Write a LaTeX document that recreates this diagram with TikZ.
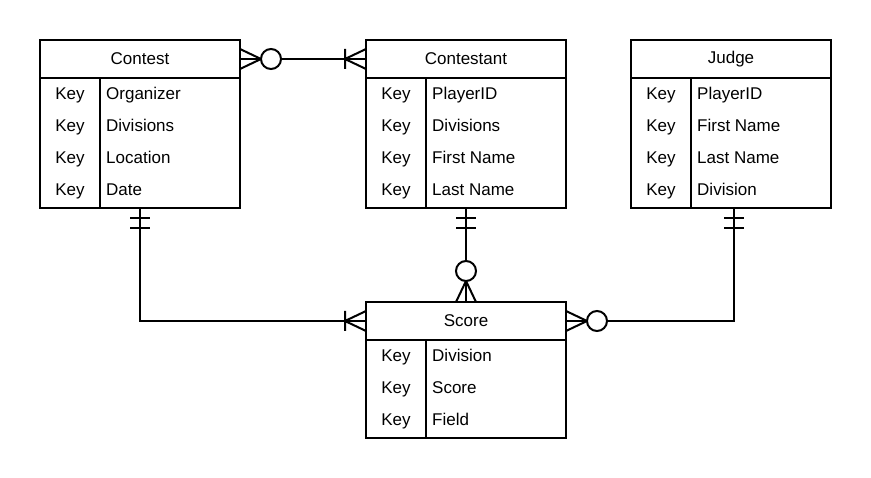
\documentclass[tikz,border=0pt]{standalone}
\usepackage{fontspec}
\setmainfont{Liberation Sans}
\usetikzlibrary{calc}
\tikzset{
  every node/.style={font=\fontsize{17}{20}\selectfont},
  box/.style={draw, line width=2pt, minimum width=200pt, inner sep=0pt, outer sep=0pt},
  head/.style={box, minimum height=38pt},
  body/.style={box, anchor=north, text height=0pt, text depth=0pt},
  keytext/.style={anchor=base, inner sep=0pt},
  attr/.style={anchor=base west, inner sep=0pt},
  link/.style={line width=2pt},
  erOne/.pic={\draw[line width=2pt] (10,-10) -- (10,10) (20,-10) -- (20,10);},
  erOneMany/.pic={\draw[line width=2pt, line join=round] (0,10) -- (21,0) -- (0,-10) (21,-10) -- (21,10);},
  erZeroMany/.pic={\draw[line width=2pt, line join=round] (0,10) -- (21,0) -- (0,-10);
    \draw[line width=2pt, fill=white] (31,0) circle (10);}
}

\begin{document}
\begin{tikzpicture}[x=1pt, y=1pt]
  \useasboundingbox (0,0) rectangle (871,-478);

  %%%%% TABLES %%%%%

  % Contest
  \node[head] (contestHead) at (140,-59) {Contest};
  \node[body, minimum height=130pt] (contestBody) at (contestHead.south) {};
  \draw[line width=2pt] ($(contestBody.north west)+(60,0)$) -- ($(contestBody.south west)+(60,0)$);
  \node[keytext] (contestK1) at (70,-100) {Key};
  \node[attr] (contestA1) at (106,-100) {Organizer};
  \node[keytext] (contestK2) at (70,-132) {Key};
  \node[attr] (contestA2) at (106,-132) {Divisions};
  \node[keytext] (contestK3) at (70,-164) {Key};
  \node[attr] (contestA3) at (106,-164) {Location};
  \node[keytext] (contestK4) at (70,-196) {Key};
  \node[attr] (contestA4) at (106,-196) {Date};

  % Contestant
  \node[head] (contestantHead) at (466,-59) {Contestant};
  \node[body, minimum height=130pt] (contestantBody) at (contestantHead.south) {};
  \draw[line width=2pt] ($(contestantBody.north west)+(60,0)$) -- ($(contestantBody.south west)+(60,0)$);
  \node[keytext] (contestantK1) at (396,-100) {Key};
  \node[attr] (contestantA1) at (432,-100) {PlayerID};
  \node[keytext] (contestantK2) at (396,-132) {Key};
  \node[attr] (contestantA2) at (432,-132) {Divisions};
  \node[keytext] (contestantK3) at (396,-164) {Key};
  \node[attr] (contestantA3) at (432,-164) {First Name};
  \node[keytext] (contestantK4) at (396,-196) {Key};
  \node[attr] (contestantA4) at (432,-196) {Last Name};

  % Judge
  \node[head] (judgeHead) at (731,-59) {Judge};
  \node[body, minimum height=130pt] (judgeBody) at (judgeHead.south) {};
  \draw[line width=2pt] ($(judgeBody.north west)+(60,0)$) -- ($(judgeBody.south west)+(60,0)$);
  \node[keytext] (judgeK1) at (661,-100) {Key};
  \node[attr] (judgeA1) at (697,-100) {PlayerID};
  \node[keytext] (judgeK2) at (661,-132) {Key};
  \node[attr] (judgeA2) at (697,-132) {First Name};
  \node[keytext] (judgeK3) at (661,-164) {Key};
  \node[attr] (judgeA3) at (697,-164) {Last Name};
  \node[keytext] (judgeK4) at (661,-196) {Key};
  \node[attr] (judgeA4) at (697,-196) {Division};
  \coordinate (judgeFoot) at ($(judgeBody.south)+(3,0)$);

  % Score
  \node[head] (scoreHead) at (466,-321) {Score};
  \node[body, minimum height=98pt] (scoreBody) at (scoreHead.south) {};
  \draw[line width=2pt] ($(scoreBody.north west)+(60,0)$) -- ($(scoreBody.south west)+(60,0)$);
  \node[keytext] (scoreK1) at (396,-362) {Key};
  \node[attr] (scoreA1) at (432,-362) {Division};
  \node[keytext] (scoreK2) at (396,-394) {Key};
  \node[attr] (scoreA2) at (432,-394) {Score};
  \node[keytext] (scoreK3) at (396,-426) {Key};
  \node[attr] (scoreA3) at (432,-426) {Field};

  %%%%% RELATIONS %%%%%

  \draw[link] (contestHead.east) -- (contestantHead.west);
  \pic[rotate=0] at (contestHead.east) {erZeroMany};
  \pic[rotate=180] at (contestantHead.west) {erOneMany};

  \draw[link] (contestantBody.south) -- (scoreHead.north);
  \pic[rotate=-90] at (contestantBody.south) {erOne};
  \pic[rotate=90] at (scoreHead.north) {erZeroMany};

  \draw[link] (contestBody.south) |- (scoreHead.west);
  \pic[rotate=-90] at (contestBody.south) {erOne};
  \pic[rotate=180] at (scoreHead.west) {erOneMany};

  \draw[link] (judgeFoot) |- (scoreHead.east);
  \pic[rotate=-90] at (judgeFoot) {erOne};
  \pic[rotate=0] at (scoreHead.east) {erZeroMany};
\end{tikzpicture}
\end{document}
